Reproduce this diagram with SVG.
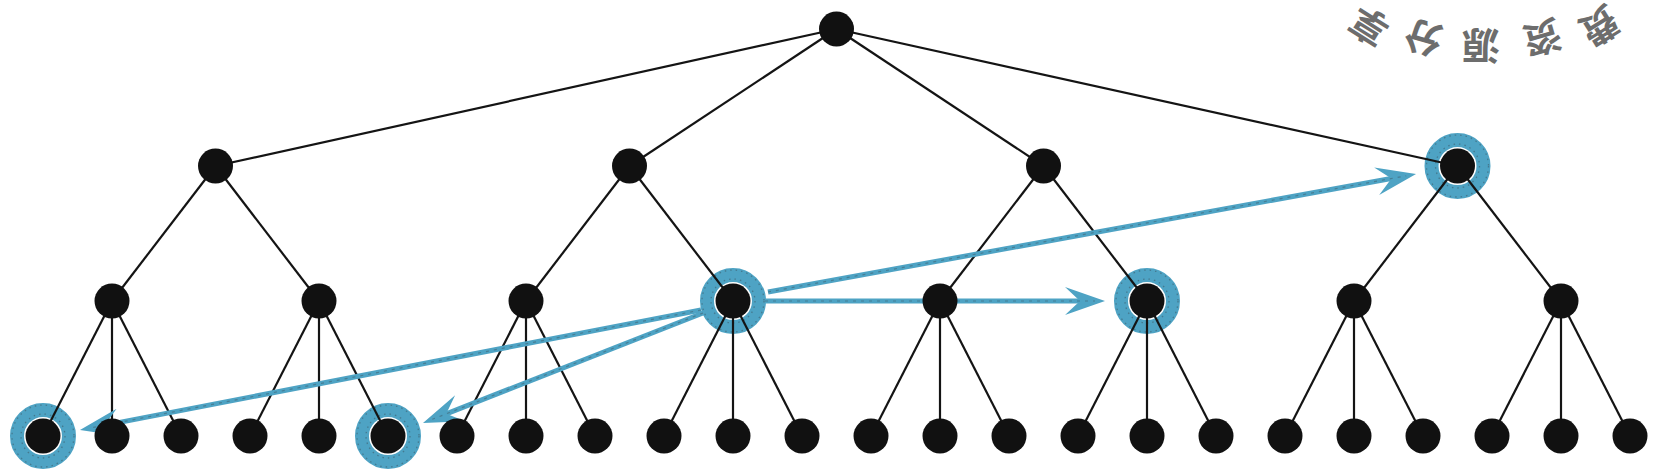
<svg xmlns="http://www.w3.org/2000/svg" width="1657" height="469" viewBox="0 0 1657 469">
<style>
.edge{stroke:#141414;stroke-width:2.2;fill:none}
.node{fill:#111111}
.ring{fill:none;stroke:#4ea3c4;stroke-width:14}
.speck{fill:none;stroke:#3d5a66;stroke-width:1.3;stroke-dasharray:1.5 4;opacity:0.55}
.arrow{stroke:#4ea3c4;stroke-width:5;fill:none}
.arrowtex{stroke:#3d5a66;stroke-width:1.2;stroke-dasharray:3 5;fill:none;opacity:0.5}
.wm{font-family:"Noto Sans CJK SC","Noto Sans CJK TC",sans-serif;font-weight:bold;font-size:38px;fill:#6d6d6d;text-anchor:middle;dominant-baseline:central}
</style>
<defs>
<marker id="ah" markerUnits="userSpaceOnUse" markerWidth="60" markerHeight="40" viewBox="-50 -20 60 40" refX="-10" refY="0" orient="auto" overflow="visible">
<path d="M0,0 L-40,-14 L-25,0 L-40,14 Z" fill="#4ea3c4"/>
</marker>
</defs>
<rect width="1657" height="469" fill="#ffffff"/>

<g id="watermark">
<text class="wm" x="1368" y="28" transform="rotate(212 1368 28)">享</text>
<text class="wm" x="1423" y="40" transform="rotate(196 1423 40)">分</text>
<text class="wm" x="1481" y="48" transform="rotate(180 1481 48)">源</text>
<text class="wm" x="1543" y="40" transform="rotate(164 1543 40)">资</text>
<text class="wm" x="1601" y="28" transform="rotate(148 1601 28)">费</text>
</g>

<g id="highlights">
<circle class="ring" cx="1457.5" cy="166" r="26"/>
<circle class="ring" cx="733" cy="301" r="26"/>
<circle class="ring" cx="1147" cy="301" r="26"/>
<circle class="ring" cx="43" cy="436" r="26"/>
<circle class="ring" cx="388" cy="436" r="26"/>
<circle class="speck" cx="1457.5" cy="166" r="31"/>
<circle class="speck" cx="733" cy="301" r="31"/>
<circle class="speck" cx="1147" cy="301" r="31"/>
<circle class="speck" cx="43" cy="436" r="31"/>
<circle class="speck" cx="388" cy="436" r="31"/>
<circle class="speck" cx="1457.5" cy="166" r="22"/>
<circle class="speck" cx="733" cy="301" r="22"/>
<circle class="speck" cx="1147" cy="301" r="22"/>
<circle class="speck" cx="43" cy="436" r="22"/>
<circle class="speck" cx="388" cy="436" r="22"/>
</g>

<g id="connectors">
<line class="edge" x1="836.5" y1="29" x2="215.5" y2="166"/>
<line class="edge" x1="836.5" y1="29" x2="629.5" y2="166"/>
<line class="edge" x1="836.5" y1="29" x2="1043.5" y2="166"/>
<line class="edge" x1="836.5" y1="29" x2="1457.5" y2="166"/>
<line class="edge" x1="215.5" y1="166" x2="112" y2="301"/>
<line class="edge" x1="215.5" y1="166" x2="319" y2="301"/>
<line class="edge" x1="629.5" y1="166" x2="526" y2="301"/>
<line class="edge" x1="629.5" y1="166" x2="733" y2="301"/>
<line class="edge" x1="1043.5" y1="166" x2="940" y2="301"/>
<line class="edge" x1="1043.5" y1="166" x2="1147" y2="301"/>
<line class="edge" x1="1457.5" y1="166" x2="1354" y2="301"/>
<line class="edge" x1="1457.5" y1="166" x2="1561" y2="301"/>
<line class="edge" x1="112" y1="301" x2="43" y2="436"/>
<line class="edge" x1="112" y1="301" x2="112" y2="436"/>
<line class="edge" x1="112" y1="301" x2="181" y2="436"/>
<line class="edge" x1="319" y1="301" x2="250" y2="436"/>
<line class="edge" x1="319" y1="301" x2="319" y2="436"/>
<line class="edge" x1="319" y1="301" x2="388" y2="436"/>
<line class="edge" x1="526" y1="301" x2="457" y2="436"/>
<line class="edge" x1="526" y1="301" x2="526" y2="436"/>
<line class="edge" x1="526" y1="301" x2="595" y2="436"/>
<line class="edge" x1="733" y1="301" x2="664" y2="436"/>
<line class="edge" x1="733" y1="301" x2="733" y2="436"/>
<line class="edge" x1="733" y1="301" x2="802" y2="436"/>
<line class="edge" x1="940" y1="301" x2="871" y2="436"/>
<line class="edge" x1="940" y1="301" x2="940" y2="436"/>
<line class="edge" x1="940" y1="301" x2="1009" y2="436"/>
<line class="edge" x1="1147" y1="301" x2="1078" y2="436"/>
<line class="edge" x1="1147" y1="301" x2="1147" y2="436"/>
<line class="edge" x1="1147" y1="301" x2="1216" y2="436"/>
<line class="edge" x1="1354" y1="301" x2="1285" y2="436"/>
<line class="edge" x1="1354" y1="301" x2="1354" y2="436"/>
<line class="edge" x1="1354" y1="301" x2="1423" y2="436"/>
<line class="edge" x1="1561" y1="301" x2="1492" y2="436"/>
<line class="edge" x1="1561" y1="301" x2="1561" y2="436"/>
<line class="edge" x1="1561" y1="301" x2="1630" y2="436"/>
<path id="arrow-up" class="arrow" d="M768,292 L1406.2,175.8" marker-end="url(#ah)"/>
<path id="arrow-right" class="arrow" d="M765,301 L1095,301" marker-end="url(#ah)"/>
<path id="arrow-leaf0" class="arrow" d="M701,310 L89.8,428.1" marker-end="url(#ah)"/>
<path id="arrow-leaf5" class="arrow" d="M703,313 L432.3,419.3" marker-end="url(#ah)"/>
<path class="arrowtex" d="M768,292 L1406.2,175.8"/>
<path class="arrowtex" d="M765,301 L1095,301"/>
<path class="arrowtex" d="M701,310 L89.8,428.1"/>
<path class="arrowtex" d="M703,313 L432.3,419.3"/>
</g>

<g id="n-root"><circle class="node" cx="836.5" cy="29" r="17.5"/></g>
<g id="n-1-0"><circle class="node" cx="215.5" cy="166" r="17.5"/></g>
<g id="n-1-1"><circle class="node" cx="629.5" cy="166" r="17.5"/></g>
<g id="n-1-2"><circle class="node" cx="1043.5" cy="166" r="17.5"/></g>
<g id="n-1-3"><circle class="node" cx="1457.5" cy="166" r="17.5"/></g>
<g id="n-2-0"><circle class="node" cx="112" cy="301" r="17.5"/></g>
<g id="n-2-1"><circle class="node" cx="319" cy="301" r="17.5"/></g>
<g id="n-2-2"><circle class="node" cx="526" cy="301" r="17.5"/></g>
<g id="n-2-3"><circle class="node" cx="733" cy="301" r="17.5"/></g>
<g id="n-2-4"><circle class="node" cx="940" cy="301" r="17.5"/></g>
<g id="n-2-5"><circle class="node" cx="1147" cy="301" r="17.5"/></g>
<g id="n-2-6"><circle class="node" cx="1354" cy="301" r="17.5"/></g>
<g id="n-2-7"><circle class="node" cx="1561" cy="301" r="17.5"/></g>
<g id="n-3-0"><circle class="node" cx="43" cy="436" r="17.5"/></g>
<g id="n-3-1"><circle class="node" cx="112" cy="436" r="17.5"/></g>
<g id="n-3-2"><circle class="node" cx="181" cy="436" r="17.5"/></g>
<g id="n-3-3"><circle class="node" cx="250" cy="436" r="17.5"/></g>
<g id="n-3-4"><circle class="node" cx="319" cy="436" r="17.5"/></g>
<g id="n-3-5"><circle class="node" cx="388" cy="436" r="17.5"/></g>
<g id="n-3-6"><circle class="node" cx="457" cy="436" r="17.5"/></g>
<g id="n-3-7"><circle class="node" cx="526" cy="436" r="17.5"/></g>
<g id="n-3-8"><circle class="node" cx="595" cy="436" r="17.5"/></g>
<g id="n-3-9"><circle class="node" cx="664" cy="436" r="17.5"/></g>
<g id="n-3-10"><circle class="node" cx="733" cy="436" r="17.5"/></g>
<g id="n-3-11"><circle class="node" cx="802" cy="436" r="17.5"/></g>
<g id="n-3-12"><circle class="node" cx="871" cy="436" r="17.5"/></g>
<g id="n-3-13"><circle class="node" cx="940" cy="436" r="17.5"/></g>
<g id="n-3-14"><circle class="node" cx="1009" cy="436" r="17.5"/></g>
<g id="n-3-15"><circle class="node" cx="1078" cy="436" r="17.5"/></g>
<g id="n-3-16"><circle class="node" cx="1147" cy="436" r="17.5"/></g>
<g id="n-3-17"><circle class="node" cx="1216" cy="436" r="17.5"/></g>
<g id="n-3-18"><circle class="node" cx="1285" cy="436" r="17.5"/></g>
<g id="n-3-19"><circle class="node" cx="1354" cy="436" r="17.5"/></g>
<g id="n-3-20"><circle class="node" cx="1423" cy="436" r="17.5"/></g>
<g id="n-3-21"><circle class="node" cx="1492" cy="436" r="17.5"/></g>
<g id="n-3-22"><circle class="node" cx="1561" cy="436" r="17.5"/></g>
<g id="n-3-23"><circle class="node" cx="1630" cy="436" r="17.5"/></g>
</svg>
